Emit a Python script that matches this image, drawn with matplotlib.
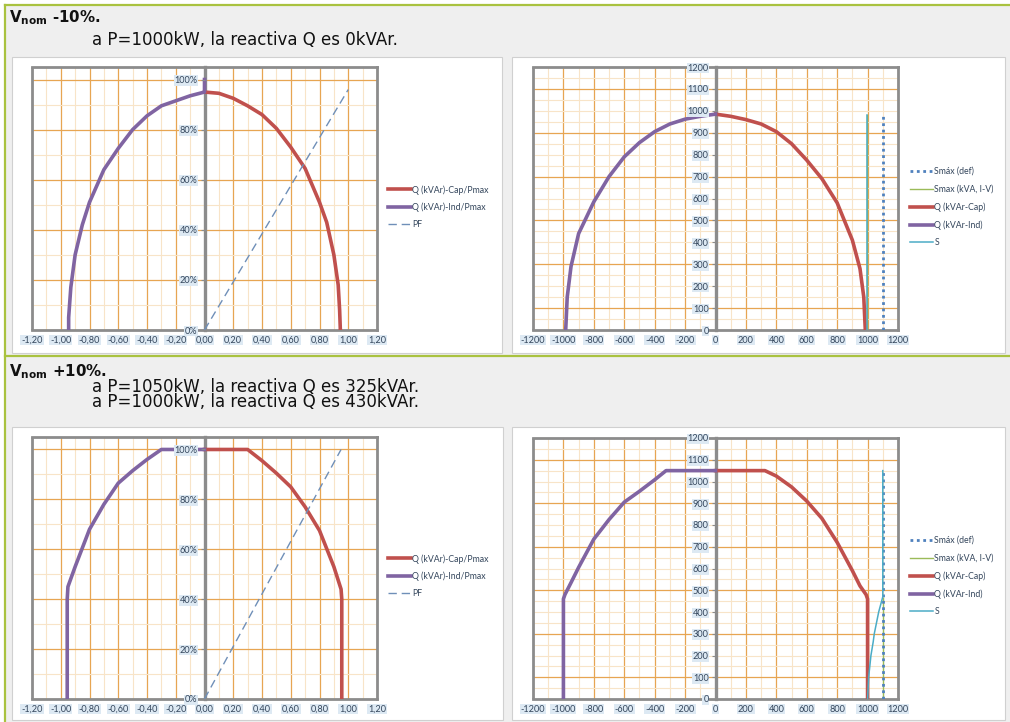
import matplotlib
matplotlib.use("Agg")
import matplotlib.pyplot as plt
from matplotlib.patches import Rectangle
from matplotlib.lines import Line2D

W, H = 1010, 722

# ---- data: P/Q capability curves (per unit), Vnom -10%
pu_cap_x_lo = [0.0, 0.1, 0.2, 0.3, 0.4, 0.5, 0.6, 0.7, 0.8, 0.85, 0.9, 0.93, 0.94, 0.945]
pu_cap_y_lo = [0.95, 0.945, 0.925, 0.895, 0.86, 0.805, 0.73, 0.645, 0.51, 0.43, 0.30, 0.18, 0.08, 0.0]
pu_ind_x_lo = [0.0, 0.0, -0.1, -0.2, -0.3, -0.4, -0.5, -0.6, -0.7, -0.8, -0.85, -0.9, -0.93, -0.945, -0.945]
pu_ind_y_lo = [1.0, 0.95, 0.935, 0.915, 0.895, 0.855, 0.80, 0.725, 0.64, 0.51, 0.42, 0.30, 0.17, 0.05, 0.0]
pf_x_lo = [0.0, 1.0]
pf_y_lo = [0.0, 0.96]

# Vnom +10%
pu_cap_x_hi = [0.0, 0.30, 0.4, 0.5, 0.6, 0.7, 0.8, 0.9, 0.95, 0.955, 0.955]
pu_cap_y_hi = [1.0, 1.0, 0.955, 0.905, 0.85, 0.77, 0.675, 0.53, 0.44, 0.40, 0.0]
pu_ind_x_hi = [0.0, -0.30, -0.4, -0.5, -0.6, -0.7, -0.8, -0.9, -0.95, -0.955, -0.955]
pu_ind_y_hi = [1.0, 1.0, 0.96, 0.915, 0.865, 0.78, 0.68, 0.53, 0.45, 0.40, 0.0]
pf_x_hi = [0.0, 0.95]
pf_y_hi = [0.0, 1.0]

# ---- data: kVAr / kW curves, Vnom -10%
kw_cap_x_lo = [0, 100, 200, 300, 400, 500, 600, 700, 800, 900, 950, 975, 985]
kw_cap_y_lo = [985, 975, 960, 940, 905, 850, 775, 690, 580, 410, 280, 150, 0]
kw_ind_x_lo = [0, -100, -200, -300, -400, -500, -600, -700, -800, -900, -950, -975, -985]
kw_ind_y_lo = [985, 975, 962, 940, 905, 855, 790, 700, 585, 440, 290, 150, 0]
smax_def_x_lo = [1100, 1100]
smax_def_y_lo = [0, 985]
smax_iv_x_lo = [993, 993]
smax_iv_y_lo = [0, 982]
s_x_lo = [993, 993]
s_y_lo = [0, 982]

# Vnom +10%
kw_cap_x_hi = [0, 325, 400, 500, 600, 700, 800, 900, 950, 990, 1000, 1000]
kw_cap_y_hi = [1050, 1050, 1025, 975, 910, 830, 720, 590, 520, 480, 460, 0]
kw_ind_x_hi = [0, -325, -400, -500, -600, -700, -800, -900, -950, -990, -1000, -1000]
kw_ind_y_hi = [1050, 1050, 1008, 955, 905, 825, 735, 605, 535, 480, 460, 0]
smax_def_x_hi = [1100, 1100]
smax_def_y_hi = [0, 1050]
smax_iv_x_hi = [1100, 1100]
smax_iv_y_hi = [0, 465]
s_x_hi = [1000, 1007, 1022, 1037, 1044, 1073, 1100, 1100]
s_y_hi = [0, 100, 200, 263, 300, 400, 470, 1050]

pu_xticks = [-1.2, -1.0, -0.8, -0.6, -0.4, -0.2, 0.0, 0.2, 0.4, 0.6, 0.8, 1.0, 1.2]
pu_xlabels = ["-1,20", "-1,00", "-0,80", "-0,60", "-0,40", "-0,20", "0,00",
              "0,20", "0,40", "0,60", "0,80", "1,00", "1,20"]
pu_yticks = [0.0, 0.2, 0.4, 0.6, 0.8, 1.0]
pu_ylabels = ["0%", "20%", "40%", "60%", "80%", "100%"]
kw_xticks = [-1200, -1000, -800, -600, -400, -200, 0, 200, 400, 600, 800, 1000, 1200]
kw_yticks = [0, 100, 200, 300, 400, 500, 600, 700, 800, 900, 1000, 1100, 1200]

pu_labels = ["Q (kVAr)-Cap/Pmax", "Q (kVAr)-Ind/Pmax", "PF"]
kw_labels = ["Smáx (def)", "Smax (kVA, I-V)", "Q (kVAr-Cap)", "Q (kVAr-Ind)", "S"]

headers = [("-10%.", ["a P=1000kW, la reactiva Q es 0kVAr."]),
           ("+10%.", ["a P=1050kW, la reactiva Q es 325kVAr.",
                      "a P=1000kW, la reactiva Q es 430kVAr."])]

RED = "#c0504d"
PURPLE = "#8064a2"
PFBLUE = "#6f8fb8"
CYAN = "#4bacc6"
DOTBLUE = "#4f81bd"
GREEN = "#9bbb59"
MAJ = "#e7a552"
MIN = "#f8e4c8"
AXG = "#8c8c8c"
TXT = "#34465c"
TICKBG = "#dde9f3"
FRAME_GREEN = "#a9c23f"

plt.rcParams["font.family"] = ["Lato", "DejaVu Sans"]

fig = plt.figure(figsize=(W / 100, H / 100), dpi=100)
fig.patch.set_facecolor("#efefef")


def rect(x0, y0, x1, y1):
    return [x0 / W, 1 - y1 / H, (x1 - x0) / W, (y1 - y0) / H]


def fx(x):
    return x / W


def fy(y):
    return 1 - y / H


# white strips outside the green frame and the green frame lines
fig.patches.append(Rectangle((0, fy(5)), 1, 1 - fy(5), transform=fig.transFigure,
                             facecolor="white", edgecolor="none", zorder=-3))
fig.patches.append(Rectangle((0, 0), fx(5), 1, transform=fig.transFigure,
                             facecolor="white", edgecolor="none", zorder=-3))
for yy in (5, 356):
    fig.add_artist(Line2D([fx(5), 1], [fy(yy), fy(yy)], transform=fig.transFigure,
                          color=FRAME_GREEN, lw=1.6, zorder=-2))
fig.add_artist(Line2D([fx(5), fx(5)], [fy(5), 0], transform=fig.transFigure,
                      color=FRAME_GREEN, lw=1.6, zorder=-2))

# chart boxes (white with light border)
for (x0, y0, x1, y1) in [(12, 57, 502, 353), (512, 57, 1005, 353),
                         (12, 427, 503, 720), (512, 427, 1005, 720)]:
    fig.patches.append(Rectangle((fx(x0), fy(y1)), (x1 - x0) / W, (y1 - y0) / H,
                                 transform=fig.transFigure, facecolor="white",
                                 edgecolor="#d0d0d0", lw=0.8, zorder=-1))

# headers
for (pct, lines), ytop, ybody in zip(headers, (22, 376), (31, 378)):
    fig.text(fx(9), fy(ytop), r"$\mathbf{V_{nom}}$ " + pct, fontsize=10.8,
             weight="bold", family="DejaVu Sans", va="baseline", color="#111111")
    fig.text(fx(92), fy(ybody), "\n".join(lines), fontsize=12.0,
             family="DejaVu Sans", va="top", linespacing=0.82, color="#111111")


def draw_grid(ax, lo, hi, step, maj, off, vertical):
    n = int(round((hi - lo) / step))
    for i in range(n + 1):
        v = lo + i * step
        k = (v - off) / maj
        major = abs(k - round(k)) < 1e-6
        kw = dict(color=MAJ if major else MIN, lw=0.9 if major else 0.8, zorder=1)
        if vertical:
            ax.axvline(v, **kw)
        else:
            ax.axhline(v, **kw)


def style_axes(ax, xlim, ylim, xgrid, ygrid, xticks, xlabels, yticks, ylabels):
    ax.set_xlim(*xlim)
    ax.set_ylim(*ylim)
    ax.set_xticks(xticks)
    ax.set_xticklabels(xlabels)
    ax.set_yticks(yticks)
    ax.set_yticklabels(ylabels)
    draw_grid(ax, xlim[0], xlim[1], *xgrid, vertical=True)
    draw_grid(ax, ylim[0], ylim[1], *ygrid, vertical=False)
    for s in ("top", "right", "bottom"):
        ax.spines[s].set_color(AXG)
        ax.spines[s].set_linewidth(2.0)
    ax.spines["left"].set_position(("data", 0))
    ax.spines["left"].set_color(AXG)
    ax.spines["left"].set_linewidth(2.4)
    ax.spines["left"].set_zorder(2.5)
    ax.add_patch(Rectangle((0, 0), 0, 1, transform=ax.transAxes, fill=False,
                           edgecolor=AXG, lw=2.0, clip_on=False, zorder=3))
    ax.tick_params(axis="both", colors=AXG, labelcolor=TXT, labelsize=6.6,
                   length=3, width=0.8, direction="out", pad=2)
    ax.tick_params(axis="x", length=0, pad=4)
    for lab in ax.get_xticklabels() + ax.get_yticklabels():
        lab.set_bbox(dict(facecolor=TICKBG, edgecolor="none", pad=0.6))
    # value labels sit on top of the curves, as in the spreadsheet chart
    ax.yaxis.set_zorder(6)
    ax.set_facecolor("white")


def pu_chart(box, cx, cy, ix, iy, px, py, leg_y):
    ax = fig.add_axes(rect(*box))
    style_axes(ax, (-1.2, 1.2), (0, 1.05), (0.1, 0.2, 0.0), (0.1, 0.2, 0.0),
               pu_xticks, pu_xlabels, pu_yticks, pu_ylabels)
    ax.plot(cx, cy, color=RED, lw=2.6, zorder=4, label=pu_labels[0])
    ax.plot(ix, iy, color=PURPLE, lw=2.6, zorder=4, label=pu_labels[1])
    ax.plot(px, py, color=PFBLUE, lw=1.0, ls=(0, (6, 3.5)), zorder=4, label=pu_labels[2])
    ax.legend(loc="upper left", bbox_to_anchor=(fx(388), fy(leg_y)),
              bbox_transform=fig.transFigure, frameon=False, fontsize=6.3,
              handlelength=2.6, handletextpad=0.2, labelspacing=0.9,
              borderpad=0, borderaxespad=0, labelcolor=TXT)
    return ax


def kw_chart(box, cx, cy, ix, iy, dx, dy, gx, gy, sx, sy, leg_y):
    ax = fig.add_axes(rect(*box))
    style_axes(ax, (-1200, 1200), (0, 1200), (100, 200, 0), (50, 200, 100),
               kw_xticks, [str(v) for v in kw_xticks],
               kw_yticks, [str(v) for v in kw_yticks])
    h1, = ax.plot(gx, gy, color=GREEN, lw=1.0, zorder=4, label=kw_labels[1])
    h2, = ax.plot(dx, dy, color=DOTBLUE, lw=2.0, ls=(0, (1, 1.3)), zorder=5,
                  label=kw_labels[0])
    h3, = ax.plot(cx, cy, color=RED, lw=2.6, zorder=4, label=kw_labels[2])
    h4, = ax.plot(ix, iy, color=PURPLE, lw=2.6, zorder=4, label=kw_labels[3])
    h5, = ax.plot(sx, sy, color=CYAN, lw=1.1, zorder=5.5, label=kw_labels[4])
    ax.legend([h2, h1, h3, h4, h5], kw_labels, loc="upper left",
              bbox_to_anchor=(fx(910), fy(leg_y)), bbox_transform=fig.transFigure,
              frameon=False, fontsize=6.3, handlelength=2.6, handletextpad=0.2,
              labelspacing=0.98, borderpad=0, borderaxespad=0, labelcolor=TXT)
    return ax


pu_chart((32, 67, 377, 330), pu_cap_x_lo, pu_cap_y_lo, pu_ind_x_lo, pu_ind_y_lo,
         pf_x_lo, pf_y_lo, 185)
pu_chart((32, 437, 377, 699), pu_cap_x_hi, pu_cap_y_hi, pu_ind_x_hi, pu_ind_y_hi,
         pf_x_hi, pf_y_hi, 554)
kw_chart((533, 67, 898, 330), kw_cap_x_lo, kw_cap_y_lo, kw_ind_x_lo, kw_ind_y_lo,
         smax_def_x_lo, smax_def_y_lo, smax_iv_x_lo, smax_iv_y_lo, s_x_lo, s_y_lo, 167)
kw_chart((533, 438, 898, 699), kw_cap_x_hi, kw_cap_y_hi, kw_ind_x_hi, kw_ind_y_hi,
         smax_def_x_hi, smax_def_y_hi, smax_iv_x_hi, smax_iv_y_hi, s_x_hi, s_y_hi, 536)

fig.savefig("out.png", dpi=100, facecolor=fig.get_facecolor())
